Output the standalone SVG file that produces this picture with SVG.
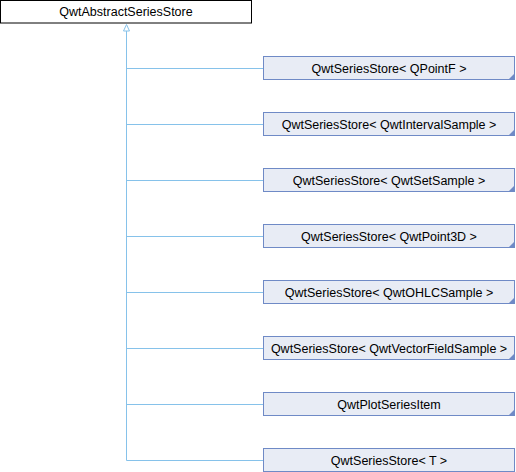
<svg xmlns="http://www.w3.org/2000/svg" width="516" height="472" viewBox="0 0 516 472">
<style>
.base{fill:#ffffff;stroke:#000000;stroke-width:1}
.node{fill:#e8ecf5;stroke:#6f8ac6;stroke-width:1}
.fold{fill:#6f8ac6;stroke:none}
.lbl{font-family:"Liberation Sans",Arial,sans-serif;font-size:12.5px;fill:#000000;text-anchor:middle}
.edge{fill:none;stroke:#86c2ea;stroke-width:1}
.arrow{fill:#ffffff;stroke:#86c2ea;stroke-width:1}
</style>
<rect width="516" height="472" fill="#ffffff"/>
<g id="connectors">
<path class="edge" d="M126.5,31 V460.5"/>
<path class="edge" d="M126.5,68.5 H263 M126.5,124.5 H263 M126.5,180.5 H263 M126.5,236.5 H263 M126.5,292.5 H263 M126.5,348.5 H263 M126.5,404.5 H263 M126.5,460.5 H263"/>
<polygon class="arrow" points="126.5,24.5 123.5,31 129.5,31"/>
</g>
<g id="QwtAbstractSeriesStore">
<rect class="base" x="0.5" y="0.5" width="251" height="22.5"/>
<text class="lbl" x="126" y="16">QwtAbstractSeriesStore</text>
</g>
<g id="n_QPointF">
<rect class="node" x="263.5" y="56.5" width="251" height="23"/>
<polygon class="fold" points="514,74 514,79.5 508.5,79.5"/>
<text class="lbl" x="389" y="72.5">QwtSeriesStore&lt; QPointF &gt;</text>
</g>
<g id="n_QwtIntervalSample">
<rect class="node" x="263.5" y="112.5" width="251" height="23"/>
<polygon class="fold" points="514,130 514,135.5 508.5,135.5"/>
<text class="lbl" x="389" y="128.5">QwtSeriesStore&lt; QwtIntervalSample &gt;</text>
</g>
<g id="n_QwtSetSample">
<rect class="node" x="263.5" y="168.5" width="251" height="23"/>
<polygon class="fold" points="514,186 514,191.5 508.5,191.5"/>
<text class="lbl" x="389" y="184.5">QwtSeriesStore&lt; QwtSetSample &gt;</text>
</g>
<g id="n_QwtPoint3D">
<rect class="node" x="263.5" y="224.5" width="251" height="23"/>
<polygon class="fold" points="514,242 514,247.5 508.5,247.5"/>
<text class="lbl" x="389" y="240.5">QwtSeriesStore&lt; QwtPoint3D &gt;</text>
</g>
<g id="n_QwtOHLCSample">
<rect class="node" x="263.5" y="280.5" width="251" height="23"/>
<polygon class="fold" points="514,298 514,303.5 508.5,303.5"/>
<text class="lbl" x="389" y="296.5">QwtSeriesStore&lt; QwtOHLCSample &gt;</text>
</g>
<g id="n_QwtVectorFieldSample">
<rect class="node" x="263.5" y="336.5" width="251" height="23"/>
<polygon class="fold" points="514,354 514,359.5 508.5,359.5"/>
<text class="lbl" x="389" y="352.5">QwtSeriesStore&lt; QwtVectorFieldSample &gt;</text>
</g>
<g id="n_QwtPlotSeriesItem">
<rect class="node" x="263.5" y="392.5" width="251" height="23"/>
<polygon class="fold" points="514,410 514,415.5 508.5,415.5"/>
<text class="lbl" x="389" y="408.5">QwtPlotSeriesItem</text>
</g>
<g id="n_T">
<rect class="node" x="263.5" y="448.5" width="251" height="23"/>
<text class="lbl" x="389" y="464.5">QwtSeriesStore&lt; T &gt;</text>
</g>
</svg>
